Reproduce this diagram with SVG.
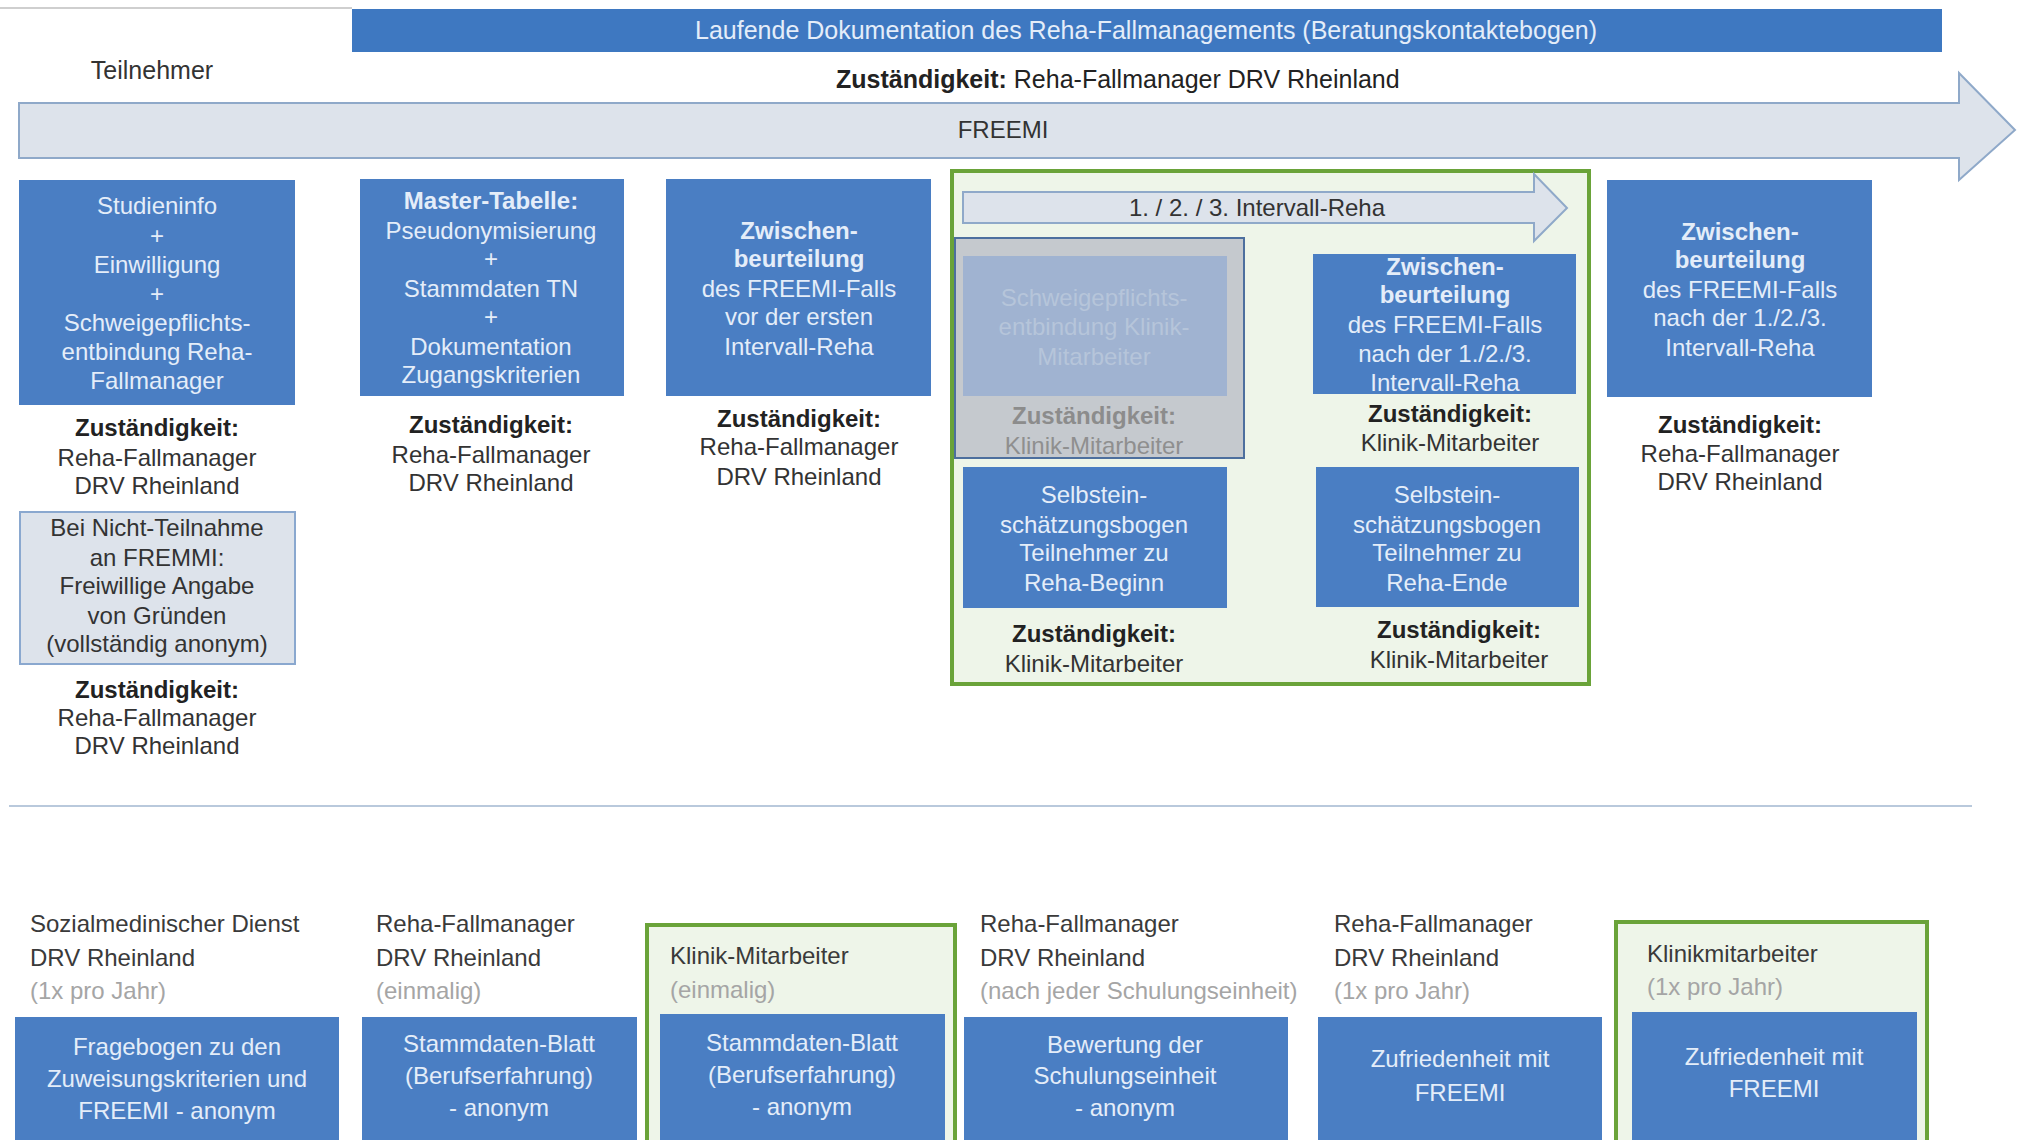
<svg xmlns="http://www.w3.org/2000/svg" width="2021" height="1140" viewBox="0 0 2021 1140">
<style>
text{font-family:"Liberation Sans",Arial,sans-serif;}
.box{fill:#4a7ec3;}
.bt{fill:#e4edf9;font-size:24px;text-anchor:middle;}
.bb{font-weight:bold;}
.lbl{fill:#333;font-size:24px;text-anchor:middle;}
.lblb{fill:#222;font-size:24px;font-weight:bold;text-anchor:middle;}
.hd{fill:#3a3a3a;font-size:24px;}
.hg{fill:#a5a5a5;font-size:24px;}
.green{fill:#eef5e9;stroke:#6aa339;stroke-width:4;}
.arrow{fill:#dde3eb;stroke:#8fa9c9;stroke-width:2;}
</style>
<rect width="2021" height="1140" fill="#ffffff"/>
<line x1="0" y1="8" x2="352" y2="8" stroke="#cfcfcf" stroke-width="2"/>

<g id="doku-bar">
<rect x="352" y="9" width="1590" height="43" fill="#3e78c1"/>
<text x="1146" y="39" class="bt" style="font-size:25px">Laufende Dokumentation des Reha-Fallmanagements (Beratungskontaktebogen)</text>
</g>

<g id="teilnehmer"><text x="152" y="79" class="lbl" style="font-size:25px">Teilnehmer</text></g>
<g id="zust-top"><text x="836" y="88" style="font-size:25px;fill:#222"><tspan font-weight="bold">Zuständigkeit:</tspan> Reha-Fallmanager DRV Rheinland</text></g>

<g id="freemi-arrow">
<path class="arrow" d="M19,103 H1959 V73 L2015,130 L1959,180 V158 H19 Z"/>
<text x="1003" y="138" class="lbl">FREEMI</text>
</g>

<g id="studieninfo">
<rect class="box" x="19" y="180" width="276" height="225"/>
<text class="bt"><tspan x="157" y="214">Studieninfo</tspan><tspan x="157" y="244">+</tspan><tspan x="157" y="273">Einwilligung</tspan><tspan x="157" y="302">+</tspan><tspan x="157" y="331">Schweigepflichts-</tspan><tspan x="157" y="360">entbindung Reha-</tspan><tspan x="157" y="389">Fallmanager</tspan></text>
<text class="lblb" x="157" y="436">Zuständigkeit:</text>
<text class="lbl"><tspan x="157" y="466">Reha-Fallmanager</tspan><tspan x="157" y="494">DRV Rheinland</tspan></text>
</g>

<g id="nicht-teilnahme">
<rect x="20" y="512" width="275" height="152" fill="#dde3eb" stroke="#8aa8cf" stroke-width="2"/>
<text class="lbl"><tspan x="157" y="536">Bei Nicht-Teilnahme</tspan><tspan x="157" y="566">an FREMMI:</tspan><tspan x="157" y="594">Freiwillige Angabe</tspan><tspan x="157" y="624">von Gründen</tspan><tspan x="157" y="652">(vollständig anonym)</tspan></text>
<text class="lblb" x="157" y="698">Zuständigkeit:</text>
<text class="lbl"><tspan x="157" y="726">Reha-Fallmanager</tspan><tspan x="157" y="754">DRV Rheinland</tspan></text>
</g>

<g id="master-tabelle">
<rect class="box" x="360" y="179" width="264" height="217"/>
<text class="bt"><tspan x="491" y="209" class="bb">Master-Tabelle:</tspan><tspan x="491" y="239">Pseudonymisierung</tspan><tspan x="491" y="267">+</tspan><tspan x="491" y="297">Stammdaten TN</tspan><tspan x="491" y="325">+</tspan><tspan x="491" y="355">Dokumentation</tspan><tspan x="491" y="383">Zugangskriterien</tspan></text>
<text class="lblb" x="491" y="433">Zuständigkeit:</text>
<text class="lbl"><tspan x="491" y="463">Reha-Fallmanager</tspan><tspan x="491" y="491">DRV Rheinland</tspan></text>
</g>

<g id="zwischen-vor">
<rect class="box" x="666" y="179" width="265" height="217"/>
<text class="bt"><tspan x="799" y="239" class="bb">Zwischen-</tspan><tspan x="799" y="267" class="bb">beurteilung</tspan><tspan x="799" y="297">des FREEMI-Falls</tspan><tspan x="799" y="325">vor der ersten</tspan><tspan x="799" y="355">Intervall-Reha</tspan></text>
<text class="lblb" x="799" y="427">Zuständigkeit:</text>
<text class="lbl"><tspan x="799" y="455">Reha-Fallmanager</tspan><tspan x="799" y="485">DRV Rheinland</tspan></text>
</g>

<g id="intervall-reha">
<rect class="green" x="952" y="171" width="637" height="513"/>
<path class="arrow" d="M963,192 H1534 V174 L1567,208 L1534,241 V223 H963 Z" fill="#e4eaf2"/>
<text x="1257" y="216" class="lbl">1. / 2. / 3. Intervall-Reha</text>
</g>

<g id="schweigepflicht-klinik">
<rect x="955" y="238" width="289" height="220" fill="#c5c9ce" stroke="#4d6f9e" stroke-width="2"/>
<rect x="963" y="256" width="264" height="140" fill="#a0b3d1"/>
<text class="bt" style="fill:#b6c5da"><tspan x="1094" y="306">Schweigepflichts-</tspan><tspan x="1094" y="335">entbindung Klinik-</tspan><tspan x="1094" y="365">Mitarbeiter</tspan></text>
<text class="lblb" x="1094" y="424" style="fill:#8c8c8c">Zuständigkeit:</text>
<text class="lbl" x="1094" y="454" style="fill:#8f8f8f">Klinik-Mitarbeiter</text>
</g>

<g id="zwischen-nach-klinik">
<rect class="box" x="1313" y="254" width="263" height="140"/>
<text class="bt"><tspan x="1445" y="275" class="bb">Zwischen-</tspan><tspan x="1445" y="303" class="bb">beurteilung</tspan><tspan x="1445" y="333">des FREEMI-Falls</tspan><tspan x="1445" y="362">nach der 1./2./3.</tspan><tspan x="1445" y="391">Intervall-Reha</tspan></text>
<text class="lblb" x="1450" y="422">Zuständigkeit:</text>
<text class="lbl" x="1450" y="451">Klinik-Mitarbeiter</text>
</g>

<g id="selbst-beginn">
<rect class="box" x="963" y="467" width="264" height="141"/>
<text class="bt"><tspan x="1094" y="503">Selbstein-</tspan><tspan x="1094" y="533">schätzungsbogen</tspan><tspan x="1094" y="561">Teilnehmer zu</tspan><tspan x="1094" y="591">Reha-Beginn</tspan></text>
<text class="lblb" x="1094" y="642">Zuständigkeit:</text>
<text class="lbl" x="1094" y="672">Klinik-Mitarbeiter</text>
</g>

<g id="selbst-ende">
<rect class="box" x="1316" y="467" width="263" height="140"/>
<text class="bt"><tspan x="1447" y="503">Selbstein-</tspan><tspan x="1447" y="533">schätzungsbogen</tspan><tspan x="1447" y="561">Teilnehmer zu</tspan><tspan x="1447" y="591">Reha-Ende</tspan></text>
<text class="lblb" x="1459" y="638">Zuständigkeit:</text>
<text class="lbl" x="1459" y="668">Klinik-Mitarbeiter</text>
</g>

<g id="zwischen-nach">
<rect class="box" x="1607" y="180" width="265" height="217"/>
<text class="bt"><tspan x="1740" y="240" class="bb">Zwischen-</tspan><tspan x="1740" y="268" class="bb">beurteilung</tspan><tspan x="1740" y="298">des FREEMI-Falls</tspan><tspan x="1740" y="326">nach der 1./2./3.</tspan><tspan x="1740" y="356">Intervall-Reha</tspan></text>
<text class="lblb" x="1740" y="433">Zuständigkeit:</text>
<text class="lbl"><tspan x="1740" y="462">Reha-Fallmanager</tspan><tspan x="1740" y="490">DRV Rheinland</tspan></text>
</g>

<g id="divider"><line x1="9" y1="806" x2="1972" y2="806" stroke="#b9c9dc" stroke-width="2"/></g>

<g id="fragebogen">
<text class="hd"><tspan x="30" y="932">Sozialmedinischer Dienst</tspan><tspan x="30" y="966">DRV Rheinland</tspan></text>
<text class="hg" x="30" y="999">(1x pro Jahr)</text>
<rect class="box" x="15" y="1017" width="324" height="123"/>
<text class="bt"><tspan x="177" y="1055">Fragebogen zu den</tspan><tspan x="177" y="1087">Zuweisungskriterien und</tspan><tspan x="177" y="1119">FREEMI - anonym</tspan></text>
</g>

<g id="stammdaten-rfm">
<text class="hd"><tspan x="376" y="932">Reha-Fallmanager</tspan><tspan x="376" y="966">DRV Rheinland</tspan></text>
<text class="hg" x="376" y="999">(einmalig)</text>
<rect class="box" x="362" y="1017" width="275" height="123"/>
<text class="bt"><tspan x="499" y="1052">Stammdaten-Blatt</tspan><tspan x="499" y="1084">(Berufserfahrung)</tspan><tspan x="499" y="1116">- anonym</tspan></text>
</g>

<g id="stammdaten-klinik">
<rect class="green" x="647" y="925" width="308" height="220"/>
<text class="hd" x="670" y="964">Klinik-Mitarbeiter</text>
<text class="hg" x="670" y="998">(einmalig)</text>
<rect class="box" x="660" y="1014" width="285" height="126"/>
<text class="bt"><tspan x="802" y="1051">Stammdaten-Blatt</tspan><tspan x="802" y="1083">(Berufserfahrung)</tspan><tspan x="802" y="1115">- anonym</tspan></text>
</g>

<g id="bewertung">
<text class="hd"><tspan x="980" y="932">Reha-Fallmanager</tspan><tspan x="980" y="966">DRV Rheinland</tspan></text>
<text class="hg" x="980" y="999">(nach jeder Schulungseinheit)</text>
<rect class="box" x="964" y="1017" width="324" height="123"/>
<text class="bt"><tspan x="1125" y="1053">Bewertung der</tspan><tspan x="1125" y="1084">Schulungseinheit</tspan><tspan x="1125" y="1116">- anonym</tspan></text>
</g>

<g id="zufriedenheit-rfm">
<text class="hd"><tspan x="1334" y="932">Reha-Fallmanager</tspan><tspan x="1334" y="966">DRV Rheinland</tspan></text>
<text class="hg" x="1334" y="999">(1x pro Jahr)</text>
<rect class="box" x="1318" y="1017" width="284" height="123"/>
<text class="bt"><tspan x="1460" y="1067">Zufriedenheit mit</tspan><tspan x="1460" y="1101">FREEMI</tspan></text>
</g>

<g id="zufriedenheit-klinik">
<rect class="green" x="1616" y="922" width="311" height="223"/>
<text class="hd" x="1647" y="962">Klinikmitarbeiter</text>
<text class="hg" x="1647" y="995">(1x pro Jahr)</text>
<rect class="box" x="1632" y="1012" width="285" height="128"/>
<text class="bt"><tspan x="1774" y="1065">Zufriedenheit mit</tspan><tspan x="1774" y="1097">FREEMI</tspan></text>
</g>

<g id="connectors"></g>
</svg>
